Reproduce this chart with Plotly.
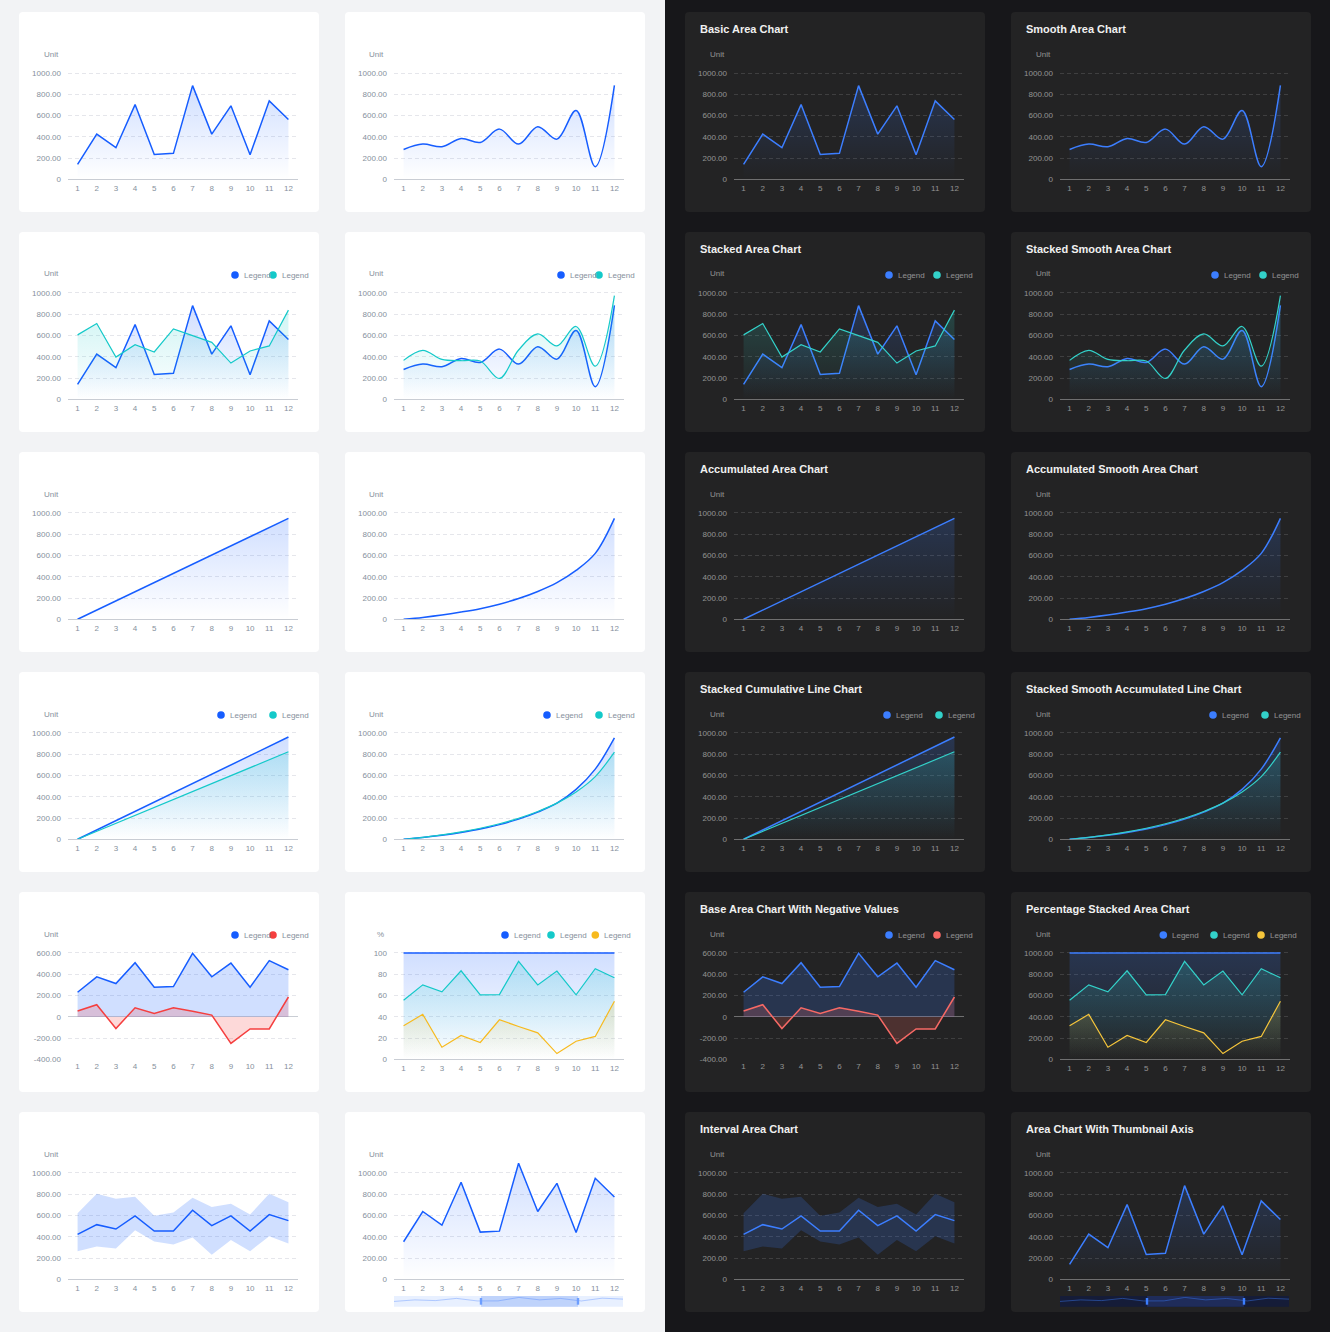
import plotly.graph_objects as go

W, H = 1330, 1332
FONT = "Liberation Sans, Arial, sans-serif"

# ---------------- data ----------------
months = [1, 2, 3, 4, 5, 6, 7, 8, 9, 10, 11, 12]
month_labels = ["1", "2", "3", "4", "5", "6", "7", "8", "9", "10", "11", "12"]

basic_values = [140, 425, 297, 703, 234, 244, 881, 425, 691, 231, 738, 562]
stack_second = [606, 713, 397, 514, 445, 662, 599, 536, 341, 454, 502, 839]
smooth_values = [281, 331, 306, 384, 347, 472, 331, 494, 378, 647, 119, 884]
smooth_second = [366, 461, 375, 363, 360, 196, 464, 615, 502, 685, 312, 975]
accum_values = [0, 86, 173, 259, 345, 432, 518, 605, 691, 777, 864, 950]
accum_smooth_values = [0, 18, 40, 68, 100, 142, 195, 262, 345, 460, 620, 950]
cum_first = [0, 87, 175, 262, 350, 437, 525, 612, 700, 787, 875, 962]
cum_second = [0, 75, 150, 224, 299, 374, 449, 524, 598, 673, 748, 823]
cum_smooth_first = [0, 17, 38, 64, 96, 138, 190, 256, 340, 470, 660, 955]
cum_smooth_second = [0, 19, 42, 70, 104, 146, 198, 262, 340, 445, 590, 820]
neg_first = [231, 376, 313, 509, 278, 284, 597, 376, 505, 278, 528, 442]
neg_second = [54, 114, -111, 85, 32, 85, 51, 16, -250, -114, -114, 186]
pct_top = [100, 100, 100, 100, 100, 100, 100, 100, 100, 100, 100, 100]
pct_mid = [55.5, 70, 63.4, 83.3, 60.6, 60.9, 92.1, 70, 83, 60.6, 85.2, 76.7]
pct_low = [31.5, 42.3, 11.4, 22.4, 15.8, 37.2, 30.9, 24.9, 5.4, 17, 21.5, 54.6]
interval_mid = [423, 514, 473, 596, 454, 454, 650, 505, 596, 454, 609, 552]
interval_high = [621, 804, 757, 776, 599, 628, 767, 681, 710, 609, 804, 726]
interval_low = [265, 309, 290, 461, 356, 328, 394, 230, 369, 265, 404, 338]
thumb_values = [353, 638, 509, 913, 444, 453, 1091, 638, 903, 441, 950, 775]

unit_ticks = [0, 200, 400, 600, 800, 1000]
unit_tick_text = ["0", "200.00", "400.00", "600.00", "800.00", "1000.00"]
neg_ticks = [-400, -200, 0, 200, 400, 600]
neg_tick_text = ["-400.00", "-200.00", "0", "200.00", "400.00", "600.00"]
pct_ticks = [0, 20, 40, 60, 80, 100]
pct_tick_text = ["0", "20", "40", "60", "80", "100"]

legend_label = "Legend"

titles = [
    ["Basic Area Chart", "Smooth Area Chart"],
    ["Stacked Area Chart", "Stacked Smooth Area Chart"],
    ["Accumulated Area Chart", "Accumulated Smooth Area Chart"],
    ["Stacked Cumulative Line Chart", "Stacked Smooth Accumulated Line Chart"],
    ["Base Area Chart With Negative Values", "Percentage Stacked Area Chart"],
    ["Interval Area Chart", "Area Chart With Thumbnail Axis"],
]
kinds = [
    ["basic", "smooth"],
    ["stacked", "stacked_smooth"],
    ["accum", "accum_smooth"],
    ["cum", "cum_smooth"],
    ["neg", "pct"],
    ["interval", "thumb"],
]

LIGHT = dict(name="light", card="#ffffff", tick="#86909c", grid="#e5e6eb",
             axis="#c9cdd4", blue="#165dff", teal="#14c9c9", red="#f53f3f",
             yellow="#f7ba1e", fill_a=0.2,
             slider_bg="#e8f0ff", slider_sel="#bfd3fb", handle="#6d9eff",
             mini="rgba(22,93,255,0.35)")
DARK = dict(name="dark", card="#232324", tick="rgba(255,255,255,0.5)",
            grid="rgba(255,255,255,0.13)", axis="rgba(255,255,255,0.35)",
            blue="#3c7eff", teal="#33d1c9", red="#f76965", yellow="#f5c53b",
            fill_a=0.2,
            slider_bg="#151c38", slider_sel="#1f2c5a", handle="#3c7eff",
            mini="rgba(60,126,255,0.55)")

card_xs_light = [19, 345]
card_xs_dark = [685, 1011]
card_ys = [12, 232, 452, 672, 892, 1112]
CARD_W, CARD_H = 300, 200


def hex_rgba(c, a):
    c = c.lstrip("#")
    r, g, b = int(c[0:2], 16), int(c[2:4], 16), int(c[4:6], 16)
    return f"rgba({r},{g},{b},{a})"


def px_x(x):
    return x / W


def px_y(y):
    return 1 - y / H


fig = go.Figure()
axes_layout = {}
shapes = []
annotations = []
counter = [0]


def rounded_path(x0, y0, x1, y1, r):
    X = px_x
    Y = px_y
    return (f"M {X(x0 + r)},{Y(y0)} L {X(x1 - r)},{Y(y0)} Q {X(x1)},{Y(y0)} {X(x1)},{Y(y0 + r)} "
            f"L {X(x1)},{Y(y1 - r)} Q {X(x1)},{Y(y1)} {X(x1 - r)},{Y(y1)} "
            f"L {X(x0 + r)},{Y(y1)} Q {X(x0)},{Y(y1)} {X(x0)},{Y(y1 - r)} "
            f"L {X(x0)},{Y(y0 + r)} Q {X(x0)},{Y(y0)} {X(x0 + r)},{Y(y0)} Z")


def add_rect(x0, y0, x1, y1, color, layer="below"):
    shapes.append(dict(type="rect", xref="paper", yref="paper",
                       x0=px_x(x0), x1=px_x(x1), y0=px_y(y1), y1=px_y(y0),
                       fillcolor=color, line=dict(width=0), layer=layer))


def new_axes(cx, cy, th, ticks, ticktext, show_xline=True, zeroline=False):
    counter[0] += 1
    n = counter[0]
    xid = "x" if n == 1 else f"x{n}"
    yid = "y" if n == 1 else f"y{n}"
    xname = "xaxis" if n == 1 else f"xaxis{n}"
    yname = "yaxis" if n == 1 else f"yaxis{n}"
    lo, top_tick = ticks[0], ticks[-1]
    bottom_px = cy + 167.3
    top_tick_px = cy + 61
    scale = (bottom_px - top_tick_px) / (top_tick - lo)
    hi = lo + (top_tick - lo) * 1.15
    top_px = bottom_px - (hi - lo) * scale
    tickfont = dict(size=8, color=th["tick"], family=FONT)
    axes_layout[xname] = dict(
        domain=[px_x(cx + 49), px_x(cx + 279)], range=[0.5, 12.5], anchor=yid,
        tickmode="array", tickvals=months, ticktext=month_labels,
        showgrid=False, zeroline=False, showline=show_xline,
        linecolor=th["axis"], linewidth=1, ticks="", tickfont=tickfont,
        ticklabelstandoff=1, fixedrange=True, automargin=False)
    axes_layout[yname] = dict(
        domain=[px_y(bottom_px), px_y(top_px)], range=[lo, hi], anchor=xid,
        tickmode="array", tickvals=ticks, ticktext=ticktext,
        showgrid=True, gridcolor=th["grid"], griddash="4px,3px", gridwidth=1,
        zeroline=zeroline, zerolinecolor=th["axis"], zerolinewidth=1,
        showline=False, ticks="", tickfont=tickfont, ticklabelstandoff=6,
        fixedrange=True, automargin=False)
    return xid, yid


def new_mini_axes(x0, x1, y0, y1, vals):
    counter[0] += 1
    n = counter[0]
    xid, yid = f"x{n}", f"y{n}"
    vmin, vmax = min(vals), max(vals)
    span = vmax - vmin
    axes_layout[f"xaxis{n}"] = dict(domain=[px_x(x0), px_x(x1)], range=[1, 12], anchor=yid,
                                    visible=False, fixedrange=True, automargin=False)
    axes_layout[f"yaxis{n}"] = dict(domain=[px_y(y1), px_y(y0)],
                                    range=[vmin - 1.3 * span, vmax + 0.35 * span],
                                    anchor=xid, visible=False, fixedrange=True, automargin=False)
    return xid, yid


def area(xid, yid, ys, color, th, smooth=False, width=1.5):
    fig.add_trace(go.Scatter(
        x=months, y=ys, xaxis=xid, yaxis=yid, mode="lines",
        line=dict(color=color, width=width, shape="spline" if smooth else "linear",
                  smoothing=1.0),
        fill="tozeroy",
        fillgradient=dict(type="vertical",
                          colorscale=[[0, hex_rgba(color, 0.0)], [1, hex_rgba(color, th["fill_a"])]],
                          start=min(0, min(ys)), stop=max(ys)),
        hoverinfo="skip", showlegend=False))


def solid_area(xid, yid, ys, color, width=1.5):
    fig.add_trace(go.Scatter(
        x=months, y=ys, xaxis=xid, yaxis=yid, mode="lines",
        line=dict(color=color, width=width), fill="tozeroy",
        fillcolor=hex_rgba(color, 0.2), hoverinfo="skip", showlegend=False))


TH_TEXT = ["#86909c"]


def legend(cx, cy, items):
    for color, rx in items:
        r = 3.8
        ccx, ccy = cx + rx, cy + 43
        shapes.append(dict(type="circle", xref="paper", yref="paper",
                           x0=px_x(ccx - r), x1=px_x(ccx + r), y0=px_y(ccy + r), y1=px_y(ccy - r),
                           fillcolor=color, line=dict(width=0), layer="above"))
        annotations.append(dict(text=legend_label, x=px_x(ccx + 6.5), y=px_y(ccy), xref="paper", yref="paper",
                                xanchor="left", yanchor="middle", showarrow=False,
                                font=dict(size=8, color=TH_TEXT[0], family=FONT)))


# ---------------- background ----------------
add_rect(665, 0, W, H, "#17171a")
for cxs, th in ((card_xs_light, LIGHT), (card_xs_dark, DARK)):
    for cy in card_ys:
        for cx in cxs:
            shapes.append(dict(type="path", xref="paper", yref="paper",
                               path=rounded_path(cx, cy, cx + CARD_W, cy + CARD_H, 4),
                               fillcolor=th["card"], line=dict(width=0), layer="below"))

# ---------------- panels ----------------
for th, cxs in ((LIGHT, card_xs_light), (DARK, card_xs_dark)):
    TH_TEXT[0] = th["tick"]
    two_leg = [216, 254] if th["name"] == "light" else [204, 252]
    for r, cy in enumerate(card_ys):
        for c, cx in enumerate(cxs):
            kind = kinds[r][c]
            if th["name"] == "dark":
                annotations.append(dict(text=titles[r][c], x=px_x(cx + 13), y=px_y(cy + 17),
                                        xref="paper", yref="paper", xanchor="left", yanchor="middle",
                                        showarrow=False,
                                        font=dict(size=11, color="#f0f0f0", family=FONT, weight="bold")))
            unit_text = "Unit"
            if kind == "neg":
                xid, yid = new_axes(cx, cy, th, neg_ticks, neg_tick_text, show_xline=False, zeroline=True)
                solid_area(xid, yid, neg_first, th["blue"])
                solid_area(xid, yid, neg_second, th["red"])
                legend(cx, cy, [(th["blue"], two_leg[0]), (th["red"], two_leg[1])])
            elif kind == "pct":
                if th["name"] == "light":
                    xid, yid = new_axes(cx, cy, th, pct_ticks, pct_tick_text)
                    tops, mids, lows = pct_top, pct_mid, pct_low
                    unit_text = "%"
                    legend(cx, cy, [(th["blue"], 160), (th["teal"], 206), (th["yellow"], 250.3)])
                else:
                    xid, yid = new_axes(cx, cy, th, unit_ticks, unit_tick_text)
                    tops = [v * 10 for v in pct_top]
                    mids = [v * 10 for v in pct_mid]
                    lows = [v * 10 for v in pct_low]
                    legend(cx, cy, [(th["blue"], 152.3), (th["teal"], 203), (th["yellow"], 250)])
                area(xid, yid, tops, th["blue"], th)
                area(xid, yid, mids, th["teal"], th, width=1.2)
                area(xid, yid, lows, th["yellow"], th, width=1.2)
            else:
                xid, yid = new_axes(cx, cy, th, unit_ticks, unit_tick_text)
                if kind == "basic":
                    area(xid, yid, basic_values, th["blue"], th)
                elif kind == "smooth":
                    area(xid, yid, smooth_values, th["blue"], th, smooth=True)
                elif kind == "stacked":
                    area(xid, yid, basic_values, th["blue"], th)
                    area(xid, yid, stack_second, th["teal"], th, width=1.2)
                    legend(cx, cy, [(th["blue"], two_leg[0]), (th["teal"], two_leg[1])])
                elif kind == "stacked_smooth":
                    area(xid, yid, smooth_values, th["blue"], th, smooth=True)
                    area(xid, yid, smooth_second, th["teal"], th, smooth=True, width=1.2)
                    legend(cx, cy, [(th["blue"], two_leg[0]), (th["teal"], two_leg[1])])
                elif kind == "accum":
                    area(xid, yid, accum_values, th["blue"], th)
                elif kind == "accum_smooth":
                    area(xid, yid, accum_smooth_values, th["blue"], th, smooth=True)
                elif kind == "cum":
                    area(xid, yid, cum_first, th["blue"], th)
                    area(xid, yid, cum_second, th["teal"], th, width=1.2)
                    legend(cx, cy, [(th["blue"], 202), (th["teal"], 254)])
                elif kind == "cum_smooth":
                    area(xid, yid, cum_smooth_first, th["blue"], th, smooth=True)
                    area(xid, yid, cum_smooth_second, th["teal"], th, smooth=True, width=1.2)
                    legend(cx, cy, [(th["blue"], 202), (th["teal"], 254)])
                elif kind == "interval":
                    fig.add_trace(go.Scatter(x=months, y=interval_low, xaxis=xid, yaxis=yid, mode="lines",
                                             line=dict(width=0, color=th["blue"]), hoverinfo="skip",
                                             showlegend=False))
                    fig.add_trace(go.Scatter(x=months, y=interval_high, xaxis=xid, yaxis=yid, mode="lines",
                                             line=dict(width=0, color=th["blue"]), fill="tonexty",
                                             fillcolor=hex_rgba(th["blue"], 0.2), hoverinfo="skip",
                                             showlegend=False))
                    fig.add_trace(go.Scatter(x=months, y=interval_mid, xaxis=xid, yaxis=yid, mode="lines",
                                             line=dict(width=1.5, color=th["blue"]), hoverinfo="skip",
                                             showlegend=False))
                elif kind == "thumb":
                    vals = thumb_values if th["name"] == "light" else basic_values
                    area(xid, yid, vals, th["blue"], th)
                    # thumbnail (data zoom) strip
                    sx0, sx1, sy0, sy1 = cx + 49, cx + 278, cy + 184, cy + 194.7
                    add_rect(sx0, sy0, sx1, sy1, th["slider_bg"])
                    add_rect(cx + 136, sy0, cx + 233, sy1, th["slider_sel"])
                    mx, my = new_mini_axes(sx0, sx1, sy0, sy1, vals)
                    fig.add_trace(go.Scatter(x=months, y=vals, xaxis=mx, yaxis=my, mode="lines",
                                             line=dict(width=0.8, color=th["mini"]), hoverinfo="skip",
                                             showlegend=False))
                    for hx in (cx + 136, cx + 233):
                        add_rect(hx - 1.2, sy0 + 2, hx + 1.2, sy1 - 2, th["handle"], layer="above")
            annotations.append(dict(text=unit_text, x=px_x(cx + 41.5), y=px_y(cy + 42),
                                    xref="paper", yref="paper", xanchor="right", yanchor="middle",
                                    showarrow=False, font=dict(size=8, color=th["tick"], family=FONT)))

fig.update_layout(
    width=W, height=H, autosize=False,
    margin=dict(l=0, r=0, t=0, b=0, pad=0, autoexpand=False),
    paper_bgcolor="#f2f3f5", plot_bgcolor="rgba(0,0,0,0)",
    font=dict(family=FONT, size=8),
    showlegend=False, hovermode=False,
    shapes=shapes, annotations=annotations,
    **axes_layout,
)

page_fix = ("document.body.style.margin='0';document.body.style.padding='0';"
            "document.body.style.overflow='hidden';"
            "document.documentElement.style.margin='0';")

fig.write_html("out.html", config={"displayModeBar": False, "staticPlot": True},
               post_script=page_fix)
